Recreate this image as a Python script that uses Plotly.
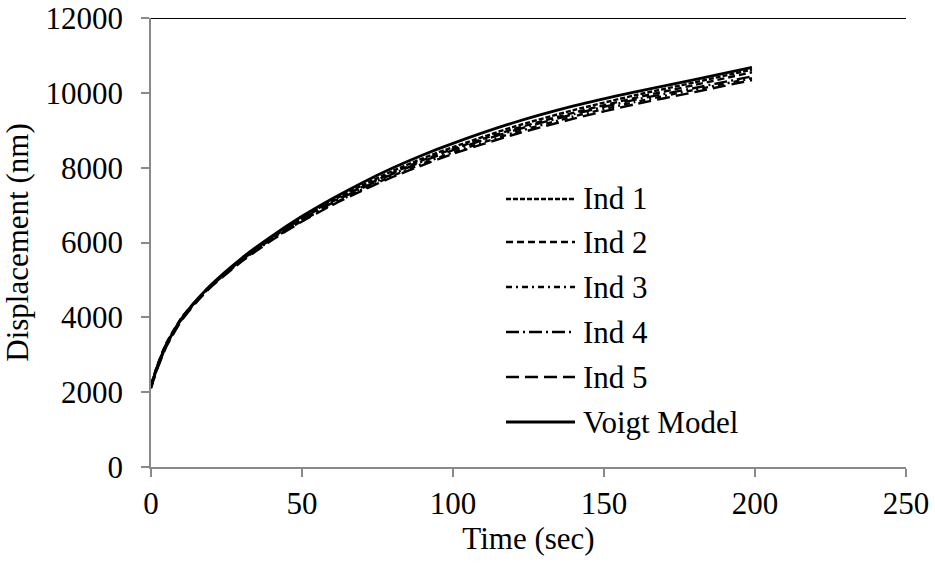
import plotly.graph_objects as go

# ---- data ----
time_ind = [0, 2, 5, 10, 15, 20, 30, 40, 50, 60, 70, 80, 90, 100, 120, 140, 160, 180, 199]
voigt = [2150, 2650, 3250, 3950, 4450, 4880, 5580, 6170, 6700, 7170, 7600, 7990, 8340, 8650, 9200, 9650, 10020, 10350, 10680]
ind1 = [2150, 2680, 3280, 3960, 4450, 4870, 5560, 6140, 6660, 7120, 7530, 7910, 8250, 8550, 9090, 9540, 9930, 10280, 10620]
ind2 = [2200, 2700, 3300, 3980, 4460, 4870, 5550, 6120, 6640, 7090, 7490, 7860, 8200, 8500, 9030, 9470, 9860, 10210, 10550]
ind3 = [2100, 2620, 3230, 3920, 4420, 4840, 5510, 6080, 6580, 7020, 7420, 7780, 8110, 8410, 8930, 9370, 9750, 10080, 10390]
ind4 = [2180, 2660, 3260, 3950, 4440, 4860, 5530, 6100, 6610, 7060, 7460, 7830, 8170, 8470, 8990, 9430, 9810, 10130, 10440]
ind5 = [2120, 2600, 3200, 3900, 4400, 4820, 5490, 6060, 6560, 7000, 7390, 7750, 8070, 8370, 8880, 9310, 9690, 10020, 10340]

series_names = ["Ind 1", "Ind 2", "Ind 3", "Ind 4", "Ind 5", "Voigt Model"]
series_values = [ind1, ind2, ind3, ind4, ind5, voigt]
dashes = ["5px,2px", "7px,4px", "6px,4px,2px,4px", "13px,4px,2px,4px", "13px,6px", "solid"]
widths = [2.4, 2.4, 2.4, 2.4, 2.4, 2.8]

x_ticks = [0, 50, 100, 150, 200, 250]
y_ticks = [0, 2000, 4000, 6000, 8000, 10000, 12000]

FONT = "Liberation Serif, Times New Roman, serif"
FS = 31
AXIS_GRAY = "#898989"

fig = go.Figure()
for name, vals, dash, w in zip(series_names, series_values, dashes, widths):
    fig.add_trace(go.Scatter(
        x=time_ind, y=vals, name=name, mode="lines",
        line=dict(color="black", width=w, dash=dash, shape="spline", smoothing=0.6),
        showlegend=False,
    ))

# plot-area pixel geometry (for the hand-drawn legend)
L, R, T, B = 151, 906, 18, 467
W, H = 935, 567

def px(x):
    return (x - L) / (R - L)

def py(y):
    return (B - y) / (B - T)

shapes = [
    dict(type="line", xref="paper", yref="y", x0=0, x1=1, y0=12000, y1=12000,
         line=dict(color="black", width=1.8)),
]
annotations = []
row_y = [199, 242, 287, 332, 377, 422]
for name, dash, w, ry in zip(series_names, dashes, widths, row_y):
    shapes.append(dict(type="line", xref="paper", yref="paper",
                       x0=px(506), x1=px(575), y0=py(ry), y1=py(ry),
                       line=dict(color="black", width=w, dash=dash)))
    annotations.append(dict(xref="paper", yref="paper", x=px(581), y=py(ry),
                            text=name, showarrow=False, xanchor="left", yanchor="middle",
                            font=dict(family=FONT, size=FS, color="black")))

fig.update_layout(
    width=W, height=H,
    margin=dict(l=L, r=W - R, t=T, b=H - B, autoexpand=False),
    paper_bgcolor="white", plot_bgcolor="white",
    font=dict(family=FONT, size=FS, color="black"),
    shapes=shapes, annotations=annotations,
    showlegend=False,
)
fig.update_xaxes(
    range=[0, 250], tickvals=x_ticks, ticktext=[str(v) for v in x_ticks],
    showgrid=False, zeroline=False, showline=True, linecolor=AXIS_GRAY, linewidth=1.8,
    ticks="outside", ticklen=8, tickcolor=AXIS_GRAY, tickwidth=1.5, automargin=False,
    tickfont=dict(family=FONT, size=FS, color="black"),
    title=dict(text="Time (sec)", font=dict(family=FONT, size=FS, color="black"), standoff=2),
)
fig.update_yaxes(
    range=[0, 12000], tickvals=y_ticks, ticktext=[str(v) for v in y_ticks],
    showgrid=False, zeroline=False, showline=True, linecolor=AXIS_GRAY, linewidth=1.8,
    ticks="outside", ticklen=8, tickcolor=AXIS_GRAY, tickwidth=1.5, automargin=False,
    ticklabelstandoff=12,
    tickfont=dict(family=FONT, size=FS, color="black"),
    title=dict(text="Displacement (nm)", font=dict(family=FONT, size=FS, color="black"), standoff=8),
)

fig.write_html("out.html")
